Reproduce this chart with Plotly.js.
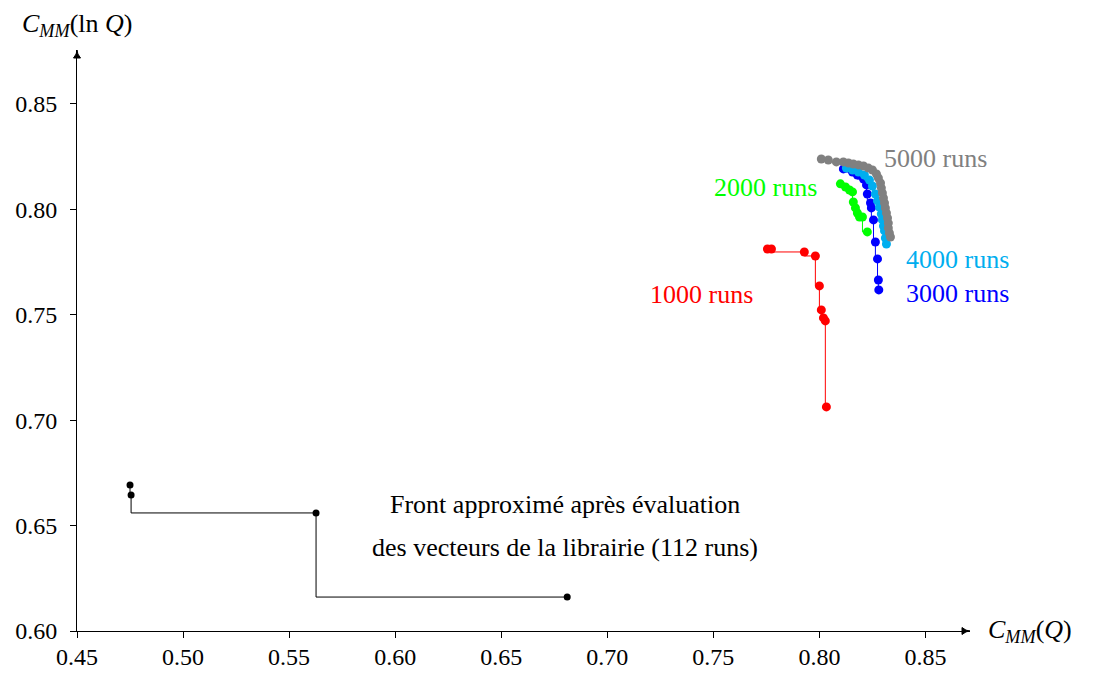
<!DOCTYPE html>
<html>
<head>
<meta charset="utf-8">
<script src="https://cdn.plot.ly/plotly-3.0.1.min.js"></script>
<style>html,body{margin:0;padding:0;background:#fff;}#chart{width:1093px;height:673px;}</style>
</head>
<body>
<div id="chart"></div>
<script>
// Library front (112 runs)
const libX = [0.4750, 0.4755, 0.5627, 0.6811];
const libY = [0.6693, 0.6645, 0.6560, 0.6161];
// 1000 runs
const r1000X = [0.7755, 0.7774, 0.7929, 0.7981, 0.8000, 0.8009, 0.8019, 0.8028, 0.8033];
const r1000Y = [0.7812, 0.7812, 0.7798, 0.7779, 0.7637, 0.7523, 0.7485, 0.7471, 0.7063];
// 2000 runs
const r2000X = [0.8099, 0.8123, 0.8142, 0.8156, 0.8160, 0.8170, 0.8179, 0.8189, 0.8203, 0.8226];
const r2000Y = [0.8121, 0.8106, 0.8092, 0.8083, 0.8035, 0.8007, 0.7983, 0.7964, 0.7964, 0.7893];
// 3000 runs
const r3000X = [0.8113, 0.8156, 0.8179, 0.8208, 0.8222, 0.8226, 0.8241, 0.8245, 0.8255, 0.8264, 0.8274, 0.8278, 0.8280];
const r3000Y = [0.8192, 0.8177, 0.8163, 0.8144, 0.8116, 0.8073, 0.8030, 0.8007, 0.7950, 0.7845, 0.7765, 0.7665, 0.7618];
// 4000 runs
const r4000X = [0.8127, 0.8156, 0.8184, 0.8212, 0.8236, 0.8250, 0.8264, 0.8274, 0.8283, 0.8292, 0.8297, 0.8302, 0.8307, 0.8311, 0.8316];
const r4000Y = [0.8196, 0.8187, 0.8177, 0.8163, 0.8139, 0.8111, 0.8073, 0.8040, 0.8011, 0.7978, 0.7950, 0.7921, 0.7898, 0.7864, 0.7836];
// 5000 runs
const r5000X = [0.8009, 0.8042, 0.8080, 0.8113, 0.8137, 0.8160, 0.8184, 0.8208, 0.8231, 0.8250, 0.8269, 0.8278, 0.8288, 0.8292, 0.8297, 0.8302, 0.8307, 0.8311, 0.8316, 0.8321, 0.8325, 0.8325, 0.8330, 0.8335];
const r5000Y = [0.8239, 0.8234, 0.8225, 0.8225, 0.8220, 0.8215, 0.8211, 0.8206, 0.8196, 0.8187, 0.8168, 0.8149, 0.8125, 0.8102, 0.8078, 0.8054, 0.8030, 0.8007, 0.7983, 0.7959, 0.7935, 0.7912, 0.7888, 0.7869];

const xTicks = [0.45, 0.50, 0.55, 0.60, 0.65, 0.70, 0.75, 0.80, 0.85];
const yTicks = [0.60, 0.65, 0.70, 0.75, 0.80, 0.85];

const FONT = "'Liberation Serif', 'DejaVu Serif', serif";
const FS = 26;
const TFS = 24;

function series(x, y, color, size) {
  return {
    x: x, y: y, type: 'scatter', mode: 'lines+markers',
    line: {shape: 'vh', color: color, width: 1},
    marker: {color: color, size: size},
    cliponaxis: false, hoverinfo: 'skip', showlegend: false
  };
}

const data = [
  series(libX, libY, '#000000', 7),
  series(r1000X, r1000Y, '#ff0000', 9),
  series(r2000X, r2000Y, '#00ff00', 9),
  series(r3000X, r3000Y, '#0000ff', 9),
  series(r4000X, r4000Y, '#00aeef', 9),
  series(r5000X, r5000Y, '#808080', 9)
];

function lbl(text, x, y, color, anchor) {
  return {text: text, x: x, y: y, xref: 'x', yref: 'y', showarrow: false,
    xanchor: anchor, yanchor: 'middle', font: {family: FONT, size: FS, color: color}};
}

const annotations = [
  lbl('5000 runs', 0.8297, 0.8239, '#808080', 'left'),
  lbl('2000 runs', 0.8000, 0.8102, '#00ff00', 'right'),
  lbl('4000 runs', 0.8401, 0.7760, '#00aeef', 'left'),
  lbl('3000 runs', 0.8401, 0.7599, '#0000ff', 'left'),
  lbl('1000 runs', 0.7698, 0.7594, '#ff0000', 'right'),
  lbl('Front approximé après évaluation', 0.6802, 0.6598, '#000000', 'center'),
  lbl('des vecteurs de la librairie (112 runs)', 0.6802, 0.6398, '#000000', 'center'),
  {text: '<i>C</i><sub><i>MM</i></sub>(ln <i>Q</i>)', xref: 'paper', yref: 'paper', x: 0, y: 1.043,
   xanchor: 'center', yanchor: 'middle', showarrow: false, font: {family: FONT, size: FS, color: '#000'}},
  {text: '<i>C</i><sub><i>MM</i></sub>(<i>Q</i>)', xref: 'paper', yref: 'paper', x: 1.018, y: 0,
   xanchor: 'left', yanchor: 'middle', showarrow: false, font: {family: FONT, size: FS, color: '#000'}}
];

// arrow tips at the axis ends (paper coords; plot area 893 x 581 px)
const PW = 893, PH = 581;
const aL = 8, aW = 3.5;
const shapes = [
  {type: 'path', xref: 'paper', yref: 'paper',
   path: `M ${1 - aL/PW},${aW/PH} Q ${1 - aL/(2*PW)},0 1,0 Q ${1 - aL/(2*PW)},0 ${1 - aL/PW},${-aW/PH} Z`,
   line: {color: '#000', width: 1}, fillcolor: '#000'},
  {type: 'path', xref: 'paper', yref: 'paper',
   path: `M ${-aW/PW},${1 - aL/PH} Q 0,${1 - aL/(2*PH)} 0,1 Q 0,${1 - aL/(2*PH)} ${aW/PW},${1 - aL/PH} Z`,
   line: {color: '#000', width: 1}, fillcolor: '#000'}
];

const layout = {
  width: 1093, height: 673,
  margin: {l: 77, r: 123, t: 50, b: 42},
  paper_bgcolor: '#ffffff', plot_bgcolor: '#ffffff',
  font: {family: FONT, size: FS, color: '#000'},
  xaxis: {range: [0.45, 0.871], tickvals: xTicks, ticktext: xTicks.map(v => v.toFixed(2)),
    showgrid: false, zeroline: false, showline: true, linecolor: '#000', linewidth: 1,
    ticks: 'outside', ticklen: 6, tickcolor: '#000', tickwidth: 1, ticklabelstandoff: -2,
    tickfont: {family: FONT, size: TFS}},
  yaxis: {range: [0.6, 0.8756], tickvals: yTicks, ticktext: yTicks.map(v => v.toFixed(2)),
    showgrid: false, zeroline: false, showline: true, linecolor: '#000', linewidth: 1,
    ticks: 'outside', ticklen: 6, tickcolor: '#000', tickwidth: 1, ticklabelstandoff: 8,
    tickfont: {family: FONT, size: TFS}},
  annotations: annotations,
  shapes: shapes,
  showlegend: false
};

Plotly.newPlot('chart', data, layout, {displayModeBar: false, staticPlot: true});
</script>
</body>
</html>
